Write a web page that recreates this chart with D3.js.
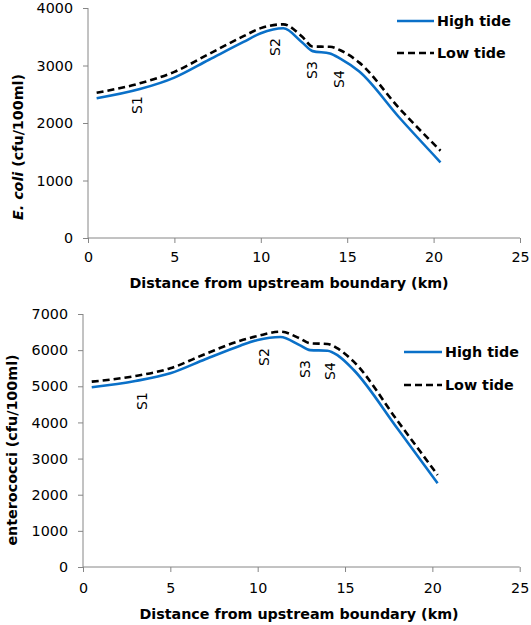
<!DOCTYPE html>
<html><head><meta charset="utf-8">
<script src="https://cdn.jsdelivr.net/npm/d3@7"></script>
<style>body{margin:0;background:#fff}svg{display:block}text{font-family:"DejaVu Sans",sans-serif;fill:#000}</style>
</head><body><svg id="c" width="531" height="625"></svg>
<script>
// ---- data ----
const seriesNames = ["High tide", "Low tide"];
const distance = [0.5, 3, 5, 7, 9, 10, 11.3, 12.4, 13.0, 14.0, 14.6, 15.7, 18, 20.4];
const ecoliHigh = [2430, 2590, 2790, 3100, 3410, 3560, 3647, 3400, 3250, 3210, 3120, 2895, 2100, 1316];
const ecoliLow  = [2527, 2690, 2890, 3200, 3510, 3650, 3716, 3500, 3330, 3325, 3265, 3050, 2260, 1518];
const distance2 = [0.5, 3, 5, 7, 9, 10, 11.3, 12.4, 13.0, 14.0, 14.6, 15.5, 18, 20.3];
const enteroHigh = [4972, 5147, 5360, 5747, 6124, 6281, 6364, 6140, 6000, 5985, 5850, 5450, 3830, 2316];
const enteroLow  = [5128, 5285, 5498, 5894, 6262, 6392, 6511, 6328, 6190, 6170, 6040, 5681, 4048, 2546];
const stations = ["S1", "S2", "S3", "S4"];
const xTicks = [0, 5, 10, 15, 20, 25];
const ecoliTicks = [0, 1000, 2000, 3000, 4000];
const enteroTicks = [0, 1000, 2000, 3000, 4000, 5000, 6000, 7000];
const xTitle = "Distance from upstream boundary (km)";

const svg = d3.select("#c");
const blue = "#0A70C8";
const FS = "14.3px";

const panels = [
  {x: distance, hi: ecoliHigh, lo: ecoliLow, yTicks: ecoliTicks, yMax: 4000,
   left: 88, right: 520, top: 8, bottom: 238,
   xLabY: 262, titleY: 288, titleX: 289, yTitleX: 23, yTitleY: 147,
   yTitle: "ecoli",
   lab: [[137, 105], [275, 47], [312, 70], [339, 79]],
   leg: {x1: 397, x2: 434, y1: 21, y2: 53}},
  {x: distance2, hi: enteroHigh, lo: enteroLow, yTicks: enteroTicks, yMax: 7000,
   left: 83, right: 519.7, top: 314, bottom: 567,
   xLabY: 593, titleY: 619, titleX: 299, yTitleX: 17, yTitleY: 450,
   yTitle: "entero",
   lab: [[142, 401], [264, 357], [305, 369], [330, 371]],
   leg: {x1: 404, x2: 442, y1: 352, y2: 385}}
];

panels.forEach(p => {
  const x = d3.scaleLinear().domain([0, 25]).range([p.left, p.right]);
  const y = d3.scaleLinear().domain([0, p.yMax]).range([p.bottom, p.top]);
  const g = svg.append("g");

  // y axis
  const ya = g.append("g").attr("transform", `translate(${p.left},0)`)
    .call(d3.axisLeft(y).tickValues(p.yTicks).tickSize(5).tickPadding(10).tickFormat(d3.format("d")));
  ya.select(".domain").attr("stroke", "#868686").attr("d", `M0,${p.top}V${p.bottom}`);
  ya.selectAll(".tick line").attr("stroke", "#868686");
  ya.selectAll(".tick text").attr("font-size", FS).attr("font-family", "DejaVu Sans").attr("fill", "#000");

  // x axis
  const xa = g.append("g").attr("transform", `translate(0,${p.bottom})`)
    .call(d3.axisBottom(x).tickValues(xTicks).tickSize(5).tickPadding(0).tickFormat(d3.format("d")));
  xa.select(".domain").attr("stroke", "#868686").attr("d", `M${p.left},0H${p.right}`);
  xa.selectAll(".tick line").attr("stroke", "#868686");
  xa.selectAll(".tick text").attr("font-size", FS).attr("font-family", "DejaVu Sans").attr("fill", "#000")
    .attr("dy", null).attr("y", p.xLabY - p.bottom);

  // x title
  g.append("text").attr("x", p.titleX).attr("y", p.titleY).attr("text-anchor", "middle")
    .attr("font-size", FS).attr("font-weight", "bold").text(xTitle);

  // y title
  const yt = g.append("text").attr("transform", `translate(${p.yTitleX},${p.yTitleY}) rotate(-90)`)
    .attr("text-anchor", "middle").attr("font-size", FS).attr("font-weight", "bold");
  if (p.yTitle === "ecoli") {
    yt.append("tspan").attr("font-style", "italic").text("E. coli");
    yt.append("tspan").text(" (cfu/100ml)");
  } else {
    yt.text("enterococci (cfu/100ml)");
  }

  // lines
  const line = d3.line().x((d, i) => x(p.x[i])).y(d => y(d)).curve(d3.curveMonotoneX);
  g.append("path").datum(p.hi).attr("d", line).attr("fill", "none")
    .attr("stroke", blue).attr("stroke-width", 2.6);
  g.append("path").datum(p.lo).attr("d", line).attr("fill", "none")
    .attr("stroke", "#000").attr("stroke-width", 2.6).attr("stroke-dasharray", "7,4");

  // station labels
  stations.forEach((s, i) => {
    g.append("text").attr("transform", `translate(${p.lab[i][0] + 5},${p.lab[i][1]}) rotate(-90)`)
      .attr("text-anchor", "middle").attr("font-size", "14px").text(s);
  });

  // legend
  const L = p.leg;
  g.append("line").attr("x1", L.x1).attr("x2", L.x2).attr("y1", L.y1).attr("y2", L.y1)
    .attr("stroke", blue).attr("stroke-width", 2.6);
  g.append("line").attr("x1", L.x1).attr("x2", L.x2).attr("y1", L.y2).attr("y2", L.y2)
    .attr("stroke", "#000").attr("stroke-width", 2.6).attr("stroke-dasharray", "7,4");
  g.append("text").attr("x", L.x2 + 3).attr("y", L.y1 + 5).attr("font-size", FS)
    .attr("font-weight", "bold").text(seriesNames[0]);
  g.append("text").attr("x", L.x2 + 3).attr("y", L.y2 + 5).attr("font-size", FS)
    .attr("font-weight", "bold").text(seriesNames[1]);
});
</script></body></html>
